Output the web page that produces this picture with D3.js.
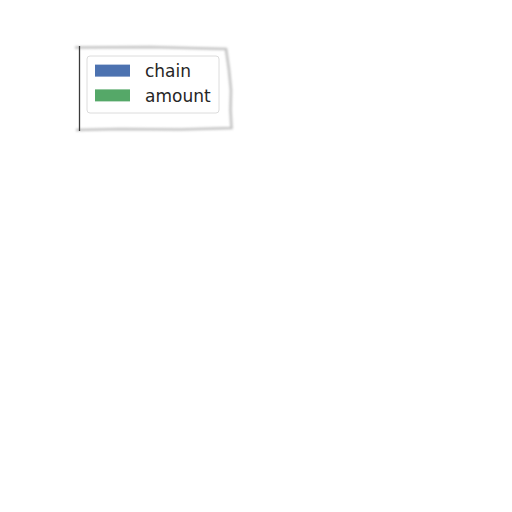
<!DOCTYPE html>
<html><head><meta charset="utf-8">
<script src="https://cdn.jsdelivr.net/npm/d3@7"></script>
<style>body{margin:0;background:#fff}svg{display:block}</style>
</head><body>
<script>
const series = ["chain", "amount"];
const colors = ["#4c72b0", "#55a868"];

const W = 512, H = 512;
const svg = d3.select("body").append("svg").attr("width", W).attr("height", H);
const defs = svg.append("defs");
defs.append("filter").attr("id", "blur").append("feGaussianBlur").attr("stdDeviation", 1.1);

// sketchy outer frame
const g = svg.append("g");
g.append("path")
  .attr("d", "M75,47.5 L150,47 L226,49 L227,56 L229,70 L231,90 L230.5,110 L231.5,128 L180,129.5 L120,129 L76,130")
  .attr("fill", "none").attr("stroke", "#c4c4c4").attr("stroke-width", 2.6).attr("filter", "url(#blur)");
g.append("path")
  .attr("d", "M79.5,46 L79.5,131")
  .attr("fill", "none").attr("stroke", "#3a3a3a").attr("stroke-width", 1.3);

// legend
const legend = svg.append("g");
legend.append("rect")
  .attr("x", 87).attr("y", 56).attr("width", 132).attr("height", 57)
  .attr("rx", 3).attr("fill", "#fff").attr("stroke", "#dcdcdc").attr("stroke-width", 1);

const y = d3.scaleBand().domain(series).range([57, 109]).padding(0.1);
const rows = legend.selectAll("g.row").data(series).enter().append("g").attr("class", "row")
  .attr("transform", d => `translate(0,${y(d) + y.bandwidth() / 2})`);
rows.append("rect").attr("x", 95).attr("y", -6).attr("width", 35).attr("height", 12)
  .attr("fill", (d, i) => colors[i]);
rows.append("text").attr("x", 145).attr("y", 0).attr("dy", "0.36em")
  .attr("font-family", "DejaVu Sans").attr("font-size", 17).attr("fill", "#262626")
  .text(d => d);
</script>
</body></html>
